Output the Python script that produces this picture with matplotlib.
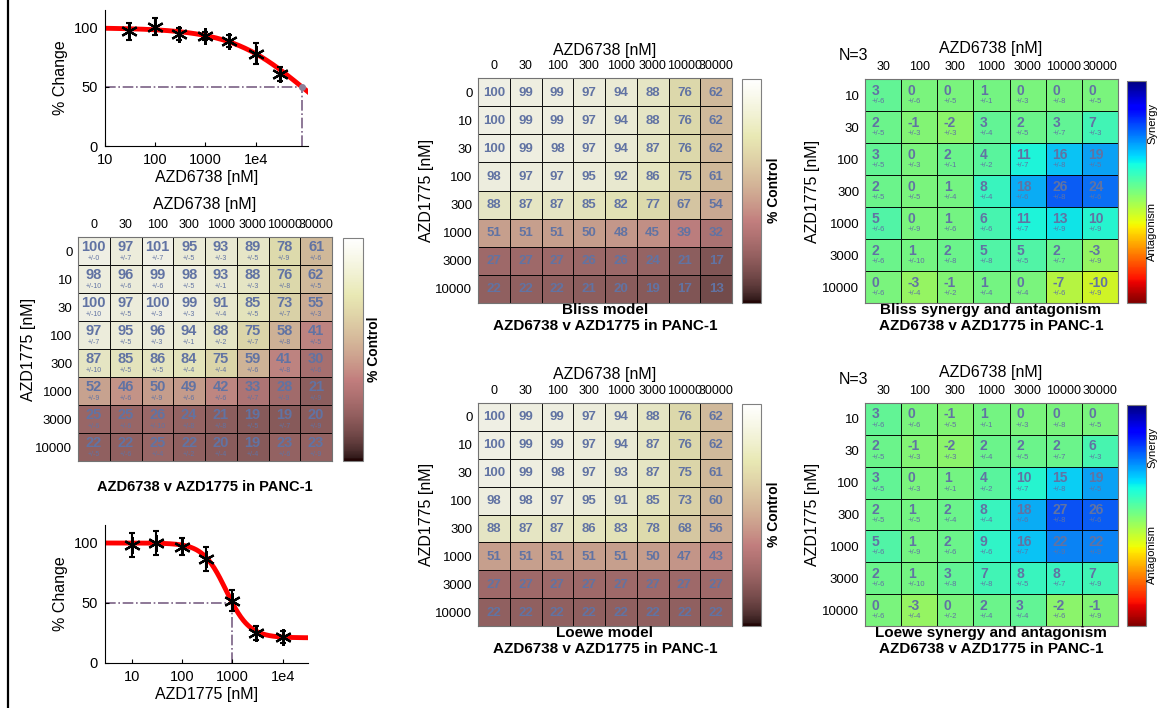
import numpy as np
import matplotlib
matplotlib.use('Agg')
import matplotlib.pyplot as plt
from matplotlib.lines import Line2D
from matplotlib.ticker import NullLocator

plt.rcParams['font.family'] = ['Liberation Sans', 'DejaVu Sans']

W, H = 1160, 708
TXT = (0.38, 0.45, 0.64)
DASH = (0.48, 0.38, 0.52)

# concentrations
azd6738_doses = ['0', '30', '100', '300', '1000', '3000', '10000', '30000']
azd1775_doses = ['0', '10', '30', '100', '300', '1000', '3000', '10000']

# observed % control (rows AZD1775, cols AZD6738)
obs_mean = [
    [100, 97, 101, 95, 93, 89, 78, 61],
    [98, 96, 99, 98, 93, 88, 76, 62],
    [100, 97, 100, 99, 91, 85, 73, 55],
    [97, 95, 96, 94, 88, 75, 58, 41],
    [87, 85, 86, 84, 75, 59, 41, 30],
    [52, 46, 50, 49, 42, 33, 28, 21],
    [25, 25, 26, 24, 21, 19, 19, 20],
    [22, 22, 25, 22, 20, 19, 23, 23],
]
obs_sd = [
    [0, 7, 7, 5, 3, 5, 9, 6],
    [10, 6, 6, 5, 1, 3, 8, 5],
    [10, 5, 3, 3, 4, 5, 7, 3],
    [7, 5, 3, 1, 2, 7, 8, 5],
    [10, 5, 5, 4, 4, 6, 8, 6],
    [9, 6, 9, 6, 6, 7, 9, 9],
    [6, 6, 10, 8, 8, 5, 7, 9],
    [5, 6, 4, 2, 4, 4, 6, 9],
]

bliss_model = [
    [100, 99, 99, 97, 94, 88, 76, 62],
    [100, 99, 99, 97, 94, 88, 76, 62],
    [100, 99, 98, 97, 94, 87, 76, 62],
    [98, 97, 97, 95, 92, 86, 75, 61],
    [88, 87, 87, 85, 82, 77, 67, 54],
    [51, 51, 51, 50, 48, 45, 39, 32],
    [27, 27, 27, 26, 26, 24, 21, 17],
    [22, 22, 22, 21, 20, 19, 17, 13],
]
loewe_model = [
    [100, 99, 99, 97, 94, 88, 76, 62],
    [100, 99, 99, 97, 94, 87, 76, 62],
    [100, 99, 98, 97, 93, 87, 75, 61],
    [98, 98, 97, 95, 91, 85, 73, 60],
    [88, 87, 87, 86, 83, 78, 68, 56],
    [51, 51, 51, 51, 51, 50, 47, 43],
    [27, 27, 27, 27, 27, 27, 27, 27],
    [22, 22, 22, 22, 22, 22, 22, 22],
]

bliss_syn = [
    [3, 0, 0, 1, 0, 0, 0],
    [2, -1, -2, 3, 2, 3, 7],
    [3, 0, 2, 4, 11, 16, 19],
    [2, 0, 1, 8, 18, 26, 24],
    [5, 0, 1, 6, 11, 13, 10],
    [2, 1, 2, 5, 5, 2, -3],
    [0, -3, -1, 1, 0, -7, -10],
]
loewe_syn = [
    [3, 0, -1, 1, 0, 0, 0],
    [2, -1, -2, 2, 2, 2, 6],
    [3, 0, 1, 4, 10, 15, 19],
    [2, 1, 2, 8, 18, 27, 26],
    [5, 1, 2, 9, 16, 22, 22],
    [2, 1, 3, 7, 8, 8, 7],
    [0, -3, 0, 2, 3, -2, -1],
]

# single agent fits
fit_6738 = dict(top=100, bottom=0, ec50=83000, hill=0.6, ic50=83000)
fit_1775 = dict(top=100, bottom=21, ec50=748, hill=1.88, ic50=1000)


def rect(x0, y0, x1, y1):
    return [x0 / W, 1 - y1 / H, (x1 - x0) / W, (y1 - y0) / H]


def ftext(fig, x, y, s, **kw):
    fig.text(x / W, 1 - y / H, s, **kw)


def draw_heatmap(fig, box, cbox, values, sds, col_labels, row_labels, cmap, vmin, vmax, style):
    ax = fig.add_axes(rect(*box))
    ax.set_facecolor('0.5')
    vals = np.array(values, dtype=float)
    nr, nc = vals.shape
    mesh = ax.pcolormesh(np.arange(nc + 1), np.arange(nr + 1), vals, cmap=cmap,
                         vmin=vmin, vmax=vmax, edgecolors='black', linewidth=0.6,
                         alpha=0.92)
    ax.set_xlim(0, nc)
    ax.set_ylim(nr, 0)
    ax.xaxis.tick_top()
    ax.set_xticks(np.arange(nc) + 0.5)
    ax.set_xticklabels(col_labels, fontsize=9)
    ax.set_yticks(np.arange(nr) + 0.5)
    ax.set_yticklabels(row_labels, fontsize=9.5)
    ax.tick_params(length=0, pad=4)
    for sp in ax.spines.values():
        sp.set_color('0.45')

    for i in range(nr):
        for j in range(nc):
            v = int(vals[i, j])
            if style == 'plain':
                ax.text(j + 0.5, i + 0.52, str(v), ha='center', va='center',
                        fontsize=9.5, fontweight='bold', color=TXT)
            elif style == 'center':
                ax.text(j + 0.5, i + 0.36, str(v), ha='center', va='center',
                        fontsize=10.5, fontweight='bold', color=TXT)
                ax.text(j + 0.5, i + 0.78, '+/-%d' % sds[i][j], ha='center', va='center',
                        fontsize=5, color=TXT)
            else:
                ax.text(j + 0.18, i + 0.36, str(v), ha='left', va='center',
                        fontsize=10, fontweight='bold', color=TXT)
                ax.text(j + 0.18, i + 0.7, '+/-%d' % sds[i][j], ha='left', va='center',
                        fontsize=5.5, color=TXT)

    cax = fig.add_axes(rect(*cbox))
    cb = fig.colorbar(mesh, cax=cax, ticks=[])
    cb.solids.set_alpha(1)
    cb.outline.set_edgecolor('0.5')
    return ax


def draw_dose(fig, box, doses, resp, err, fit, xlim, xlabel, dot):
    ax = fig.add_axes(rect(*box))
    xs = np.logspace(np.log10(xlim[0]), np.log10(xlim[1]), 300)
    ys = fit['bottom'] + (fit['top'] - fit['bottom']) / (1 + (xs / fit['ec50']) ** fit['hill'])
    ax.plot(xs, ys, color='red', lw=3.5, zorder=2)
    ax.plot([xlim[0], fit['ic50']], [50, 50], ls='-.', color=DASH, lw=1.2, zorder=1)
    ax.plot([fit['ic50'], fit['ic50']], [0, 50], ls='-.', color=DASH, lw=1.2, zorder=1)
    if dot:
        ax.plot([fit['ic50']], [50], 'o', ms=4, color=(0.55, 0.5, 0.6), zorder=3)
    ax.errorbar(doses, resp, yerr=err, fmt='none', ecolor='black', elinewidth=1.5,
                capsize=2.5, capthick=1.5, zorder=4)
    ax.plot(doses, resp, ls='none', marker=(6, 2, 0), ms=12, mec='black', mew=1.6, zorder=5)
    ax.set_xscale('log')
    ax.set_xlim(xlim)
    ax.set_ylim(0, 115)
    ax.spines['top'].set_visible(False)
    ax.spines['right'].set_visible(False)
    ax.set_yticks([0, 50, 100])
    ax.set_xticks([10, 100, 1000, 10000])
    ax.set_xticklabels(['10', '100', '1000', '1e4'])
    ax.xaxis.set_minor_locator(NullLocator())
    ax.tick_params(direction='in', length=3, labelsize=10.5, pad=5)
    ax.set_xlabel(xlabel, fontsize=11.5, labelpad=2)
    ax.set_ylabel('% Change', fontsize=11.5, labelpad=4)
    return ax


fig = plt.figure(figsize=(W / 100, H / 100), dpi=100)
fig.add_artist(Line2D([8 / W, 8 / W], [0, 1], color='black', lw=1.6))

# single agent curves
doses_6738 = [float(d) for d in azd6738_doses[1:]]
doses_1775 = [float(d) for d in azd1775_doses[1:]]
draw_dose(fig, (105, 10, 308, 146), doses_6738, obs_mean[0][1:], obs_sd[0][1:],
          fit_6738, (10, 1.1e5), 'AZD6738 [nM]', True)
draw_dose(fig, (105, 525, 308, 663), doses_1775, [r[0] for r in obs_mean[1:]],
          [r[0] for r in obs_sd[1:]], fit_1775, (2.9, 3.2e4), 'AZD1775 [nM]', False)

title2 = 'AZD6738 v AZD1775 in PANC-1'

# observed
draw_heatmap(fig, (78, 237, 332, 461), (343, 238, 363, 461), obs_mean, obs_sd,
             azd6738_doses, azd1775_doses, 'pink', 0, 108, 'center')
ftext(fig, 205, 205, 'AZD6738 [nM]', ha='center', va='center', fontsize=11.5)
ftext(fig, 28, 349, 'AZD1775 [nM]', ha='center', va='center', fontsize=11.5, rotation=90)
ftext(fig, 374, 349, '% Control', ha='center', va='center', fontsize=10,
      fontweight='bold', rotation=90)
ftext(fig, 205, 487, title2, ha='center', va='center', fontsize=10.5, fontweight='bold')

# model predictions
for (y0, y1, vals, name) in [(78, 303, bliss_model, 'Bliss model'),
                             (403, 626, loewe_model, 'Loewe model')]:
    draw_heatmap(fig, (478, y0, 732, y1), (742, y0 + 1, 761, y1), vals, None,
                 azd6738_doses, azd1775_doses, 'pink', 0, 108, 'plain')
    ftext(fig, 605, y0 - 28, 'AZD6738 [nM]', ha='center', va='center', fontsize=11.5)
    ftext(fig, 427, (y0 + y1) / 2, 'AZD1775 [nM]', ha='center', va='center',
          fontsize=11.5, rotation=90)
    ftext(fig, 774, (y0 + y1) / 2, '% Control', ha='center', va='center', fontsize=10,
          fontweight='bold', rotation=90)
    ftext(fig, 605, y1 + 7, name, ha='center', va='center', fontsize=11, fontweight='bold')
    ftext(fig, 605, y1 + 23, title2, ha='center', va='center', fontsize=11, fontweight='bold')

# synergy maps
for (y0, y1, vals, name) in [(79, 303, bliss_syn, 'Bliss synergy and antagonism'),
                             (403, 626, loewe_syn, 'Loewe synergy and antagonism')]:
    sds = [r[1:] for r in obs_sd[1:]]
    draw_heatmap(fig, (865, y0, 1118, y1), (1127, y0 + 2, 1146, y1), vals, sds,
                 azd6738_doses[1:], azd1775_doses[1:], 'jet_r', -45, 45, 'left')
    ftext(fig, 991, y0 - 30, 'AZD6738 [nM]', ha='center', va='center', fontsize=11.5)
    ftext(fig, 868, y0 - 24, 'N=3', ha='right', va='center', fontsize=11.5)
    ftext(fig, 812, (y0 + y1) / 2, 'AZD1775 [nM]', ha='center', va='center',
          fontsize=11.5, rotation=90)
    ftext(fig, 1147, y0 + 0.2 * (y1 - y0), 'Synergy', ha='left', va='center',
          fontsize=8, rotation=90)
    ftext(fig, 1147, y0 + 0.68 * (y1 - y0), 'Antagonism', ha='left', va='center',
          fontsize=8, rotation=90)
    ftext(fig, 991, y1 + 7, name, ha='center', va='center', fontsize=11, fontweight='bold')
    ftext(fig, 991, y1 + 23, title2, ha='center', va='center', fontsize=11, fontweight='bold')

fig.savefig('out.png', dpi=100)
